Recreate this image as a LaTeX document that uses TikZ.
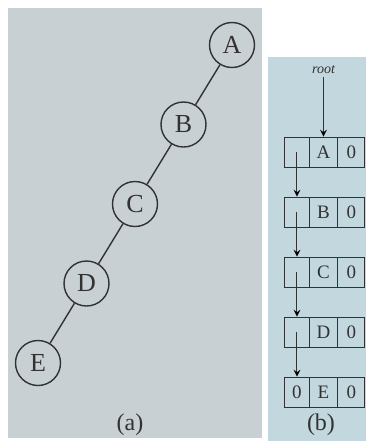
\documentclass[tikz,border=0pt]{standalone}
\usepackage{fontspec}
\setmainfont{Liberation Serif}
\usepackage{tikz}
\usetikzlibrary{arrows, positioning, shapes.multipart}
\definecolor{panelgrey}{RGB}{201, 208, 211}
\definecolor{panelblue}{RGB}{194, 215, 222}
\definecolor{inkgrey}{RGB}{50, 50, 50}

\begin{document}
\begin{tikzpicture}[
    x=0.5pt, y=-0.5pt, on grid,
    vertex/.style={circle, draw=inkgrey, line width=0.7pt, minimum size=22.5pt, inner sep=0pt, text=inkgrey, font=\fontsize{13}{15}\selectfont},
    record/.style={rectangle split, rectangle split horizontal, rectangle split parts=3, draw=inkgrey, line width=0.5pt, inner sep=0pt, minimum height=15pt, text=inkgrey, font=\fontsize{9.5}{11}\selectfont},
    link/.style={draw=inkgrey, line width=0.7pt},
    ptr/.style={->, >=stealth, draw=inkgrey, line width=0.5pt},
    sublabel/.style={text=inkgrey, font=\fontsize{12}{14}\selectfont},
    rootlbl/.style={text=inkgrey, inner sep=1pt, font=\fontsize{7}{8}\selectfont\itshape}
]
    % Panels
    \useasboundingbox (0,0) rectangle (366,441);
    \fill[white] (0,0) rectangle (366,441);
    \fill[panelgrey] (8,8) rectangle (262,438);
    \fill[panelblue] (268,57) rectangle (366,441);

    % (a) tree
    \node[vertex] (A) at (232,45) {A};
    \node[vertex, below left=39.75pt and 24.25pt of A] (B) {B};
    \node[vertex, below left=39.75pt and 24.25pt of B] (C) {C};
    \node[vertex, below left=39.75pt and 24.25pt of C] (D) {D};
    \node[vertex, below left=39.75pt and 24.25pt of D] (E) {E};
    \draw[link] (A) -- (B);
    \draw[link] (B) -- (C);
    \draw[link] (C) -- (D);
    \draw[link] (D) -- (E);
    \node[sublabel] (capa) at (130,425) {(a)};

    % (b) linked records
    \node[record] (rA) at (325,152) {\makebox[12pt]{}\nodepart{two}\makebox[13.5pt]{A}\nodepart{three}\makebox[13.5pt]{0}};
    \node[record, below=30pt of rA] (rB) {\makebox[12pt]{}\nodepart{two}\makebox[13.5pt]{B}\nodepart{three}\makebox[13.5pt]{0}};
    \node[record, below=30pt of rB] (rC) {\makebox[12pt]{}\nodepart{two}\makebox[13.5pt]{C}\nodepart{three}\makebox[13.5pt]{0}};
    \node[record, below=30pt of rC] (rD) {\makebox[12pt]{}\nodepart{two}\makebox[13.5pt]{D}\nodepart{three}\makebox[13.5pt]{0}};
    \node[record, below=30pt of rD] (rE) {\makebox[12pt]{0}\nodepart{two}\makebox[13.5pt]{E}\nodepart{three}\makebox[13.5pt]{0}};
    \node[rootlbl, above=30pt of rA.two north] (root) {root};
    \draw[ptr] (root) -- (rA.two north);
    \draw[ptr] (rA.one north |- rA.center) -- (rB.one north);
    \draw[ptr] (rB.one north |- rB.center) -- (rC.one north);
    \draw[ptr] (rC.one north |- rC.center) -- (rD.one north);
    \draw[ptr] (rD.one north |- rD.center) -- (rE.one north);
    \node[sublabel] (capb) at (321,425) {(b)};
\end{tikzpicture}
\end{document}
